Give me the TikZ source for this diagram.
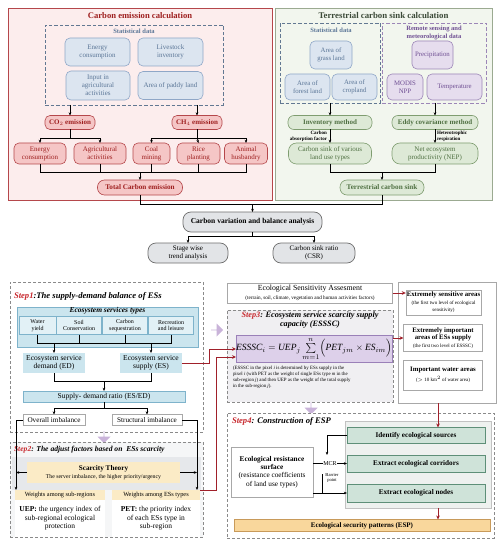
\documentclass[tikz,border=0pt]{standalone}
\usepackage{fontspec}
\setmainfont{Liberation Serif}
\usetikzlibrary{arrows.meta,shapes.arrows,calc}
\newcommand{\myfs}[2]{\fontsize{#1}{#2}\selectfont}
\definecolor{redT}{HTML}{9E1F1F}
\definecolor{redB}{HTML}{B5474B}
\definecolor{redF}{HTML}{F5C6C6}
\definecolor{redBg}{HTML}{FCEDED}
\definecolor{blueT}{HTML}{5B7697}
\definecolor{blueB}{HTML}{8FA7C7}
\definecolor{blueF}{HTML}{DCE5F0}
\definecolor{greenBg}{HTML}{F2F6EE}
\definecolor{greenBgB}{HTML}{9BAA91}
\definecolor{greenF}{HTML}{DDE9D6}
\definecolor{greenB}{HTML}{7F9D70}
\definecolor{greenT}{HTML}{4F7042}
\definecolor{greenTT}{HTML}{3C4A38}
\definecolor{purF}{HTML}{E6DDEE}
\definecolor{purB}{HTML}{9C86B7}
\definecolor{purT}{HTML}{6F4F93}
\definecolor{grayF}{HTML}{E2E4E7}
\definecolor{grayB}{HTML}{6E6E6E}
\definecolor{esBlue}{HTML}{CBE5EE}
\definecolor{esBlueB}{HTML}{7EB3CB}
\definecolor{esCell}{HTML}{E2F1F6}
\definecolor{orF}{HTML}{FBEBC6}
\definecolor{orESP}{HTML}{F9D79C}
\definecolor{orESPB}{HTML}{C89A5A}
\definecolor{tealF}{HTML}{CFE3D9}
\definecolor{tealB}{HTML}{5E8F78}
\definecolor{formF}{HTML}{DDD0EA}
\definecolor{formB}{HTML}{9A80B8}
\definecolor{arrowRed}{HTML}{A0202A}
\definecolor{stepred}{HTML}{C8282D}
\definecolor{blk}{HTML}{C9B3D9}
\definecolor{dashG}{HTML}{8A8A8A}
\definecolor{lightG}{HTML}{A8A8A8}
\definecolor{s2bg}{HTML}{F5F6F7}
\definecolor{s2band}{HTML}{E6E8EB}
\definecolor{s3bg}{HTML}{F0EFF2}
\definecolor{pnlF}{HTML}{EEF1EF}
\tikzset{
  bx/.style={align=center, inner sep=1pt, outer sep=0pt},
  pinkn/.style={bx, draw=redB, fill=redF, rounded corners=5pt, text=redT, line width=0.6pt},
  bluen/.style={bx, draw=blueB, fill=blueF, rounded corners=5pt, text=blueT, line width=0.6pt},
  greenn/.style={bx, draw=greenB, fill=greenF, rounded corners=6pt, text=greenT, line width=0.6pt},
  purn/.style={bx, draw=purB, fill=purF, rounded corners=5pt, text=purT, line width=0.6pt},
  grayn/.style={bx, draw=grayB, fill=grayF, rounded corners=8pt, text=black, line width=0.7pt},
  ln/.style={line width=0.6pt},
  arr/.style={line width=0.6pt, -{Stealth[length=3.2pt,width=2.6pt]}},
  rarr/.style={draw=arrowRed, line width=0.9pt, -{Stealth[length=4pt,width=3.6pt]}},
  dbox/.style={bx, dashed, dash pattern=on 3.5pt off 2pt, line width=0.8pt},
  dstep/.style={bx, draw=dashG, dash pattern=on 3pt off 2pt, line width=0.7pt},
  wbox/.style={bx, draw=lightG, fill=white, line width=0.6pt},
  blkarrow/.style={single arrow, fill=blk, draw=none, minimum height=12pt, minimum width=13pt, single arrow head extend=2.5pt, inner sep=0pt}
}
\begin{document}
\begin{tikzpicture}[x=1pt,y=-1pt]
\useasboundingbox (0,0) rectangle (500,540);
\fill[white] (0,0) rectangle (500,540);

% ================= Carbon emission =================
\node[bx, draw=redB, fill=redBg, line width=0.7pt, minimum width=264, minimum height=192] (ce) at (140,104) {};
\node[bx, font=\myfs{8.6}{10}\bfseries, text=redT] (cet) at (140,16) {Carbon emission calculation};
\node[dbox, draw=blueT!80!gray, minimum width=178, minimum height=80] (sd1) at (134,65) {};
\node[bx, font=\myfs{6.5}{7.5}\bfseries, text=blueT] (sd1t) at (134,31) {Statistical data};
\node[bluen, font=\myfs{7}{8}, minimum width=65, minimum height=28] (enc) at (97.5,52) {Energy\\consumption};
\node[bluen, font=\myfs{7}{8}, minimum width=65, minimum height=28] (liv) at (170.5,52) {Livestock\\inventory};
\node[bluen, font=\myfs{7}{8}, minimum width=64, minimum height=29] (inp) at (98,85.5) {Input in\\agricultural\\activities};
\node[bluen, font=\myfs{7}{8}, minimum width=65, minimum height=28] (pad) at (170.5,85.5) {Area of paddy land};

\node[pinkn, font=\myfs{7}{8}\bfseries, minimum width=50, minimum height=14] (co2) at (70,122.5) {CO$_2$ emission};
\node[pinkn, font=\myfs{7}{8}\bfseries, minimum width=50, minimum height=14] (ch4) at (197,122.5) {CH$_4$ emission};
\draw[arr] (sd1.south -| co2) -- (co2.north);
\draw[arr] (sd1.south -| ch4) -- (ch4.north);

\node[pinkn, font=\myfs{7}{8}, minimum width=52, minimum height=21] (en2) at (40,153.5) {Energy\\consumption};
\node[pinkn, font=\myfs{7}{8}, minimum width=52, minimum height=21] (agr) at (100,153.5) {Agricultural\\activities};
\node[pinkn, font=\myfs{7}{8}, minimum width=37, minimum height=21] (cm) at (151.5,153.5) {Coal\\mining};
\node[pinkn, font=\myfs{7}{8}, minimum width=43, minimum height=21] (rp) at (198.5,153.5) {Rice\\planting};
\node[pinkn, font=\myfs{7}{8}, minimum width=43, minimum height=21] (ah) at (246,153.5) {Animal\\husbandry};

\coordinate (j1) at (70,138);
\draw[ln] (co2.south) -- (j1);
\draw[arr] (j1) -| (en2.north);
\draw[arr] (j1) -| (agr.north);
\coordinate (j2) at (197,138);
\draw[ln] (ch4.south) -- (j2);
\draw[arr] (j2) -| (cm.north);
\draw[arr] (j2) -- (rp.north);
\draw[arr] (j2) -| (ah.north);

\node[pinkn, font=\myfs{7.2}{8}\bfseries, minimum width=85, minimum height=15, rounded corners=7pt] (tot) at (140,187.5) {Total Carbon emission};
\coordinate (j3) at (140,172);
\draw[ln] (en2.south) |- (j3);
\draw[ln] (ah.south) |- (j3);
\draw[ln] (agr.south) -- (agr.south |- j3);
\draw[ln] (cm.south) -- (cm.south |- j3);
\draw[ln] (rp.south) -- (rp.south |- j3);
\draw[arr] (j3) -- (tot.north);

% ================= Terrestrial carbon sink =================
\node[bx, draw=greenBgB, fill=greenBg, line width=0.7pt, minimum width=217, minimum height=192] (tcs) at (383.5,104) {};
\node[bx, font=\myfs{8.8}{10}\bfseries, text=greenTT] (tcst) at (383.5,16) {Terrestrial carbon sink calculation};
\node[dbox, draw=blueT!80!gray, minimum width=100, minimum height=80] (sd2) at (330,63) {};
\node[bx, font=\myfs{6.5}{7.5}\bfseries, text=blueT] (sd2t) at (331,30) {Statistical data};
\node[dbox, draw=purB, minimum width=104, minimum height=80] (rs) at (434,63) {};
\node[bx, font=\myfs{6.5}{7.5}\bfseries, text=purT] (rst) at (434,33) {Remote sensing and\\meteorological data};

\node[bluen, font=\myfs{6.8}{8}, minimum width=42, minimum height=28] (gl) at (331,55) {Area of\\grass land};
\node[bluen, font=\myfs{6.8}{8}, minimum width=45, minimum height=26] (fl) at (307.5,87) {Area of\\forest land};
\node[bluen, font=\myfs{6.8}{8}, minimum width=45, minimum height=26] (crl) at (354.5,87) {Area of\\cropland};
\node[purn, font=\myfs{6.8}{8}, minimum width=41, minimum height=28] (pr) at (432.5,55) {Precipitation};
\node[purn, font=\myfs{6.8}{8}, minimum width=36, minimum height=26] (mn) at (405,87) {MODIS\\NPP};
\node[purn, font=\myfs{6.8}{8}, minimum width=55, minimum height=26] (tp) at (454.5,87) {Temperature};

\node[greenn, font=\myfs{7}{8}\bfseries, minimum width=84, minimum height=14] (im) at (330,122.5) {Inventory method};
\node[greenn, font=\myfs{7}{8}\bfseries, minimum width=86, minimum height=14] (ecm) at (435,122.5) {Eddy covariance method};
\draw[arr] (sd2.south -| im) -- (im.north);
\draw[arr] (rs.south -| ecm) -- (ecm.north);

\node[greenn, font=\myfs{7}{8}, minimum width=83, minimum height=21, rounded corners=8pt] (csl) at (330,153.5) {Carbon sink of various\\land use types};
\node[greenn, font=\myfs{7}{8}, minimum width=86, minimum height=21, rounded corners=8pt] (nep) at (435,153.5) {Net ecosystem\\productivity (NEP)};
\draw[arr] (im.south) -- (csl.north);
\draw[arr] (ecm.south) -- (nep.north);
\node[bx, font=\myfs{5}{5.6}\bfseries, anchor=east, align=right] (caf) at (328,136) {Carbon\\absorption factor};
\node[bx, font=\myfs{5}{5.6}\bfseries, anchor=west, align=left] (htr) at (436,136) {Heterotrophic\\respiration};

\node[greenn, font=\myfs{7.2}{8}\bfseries, minimum width=84, minimum height=15, rounded corners=7pt] (ts) at (382,187.5) {Terrestrial carbon sink};
\coordinate (j4) at (382,172);
\draw[ln] (csl.south) |- (j4);
\draw[ln] (nep.south) |- (j4);
\draw[arr] (j4) -- (ts.north);

% ================= Carbon variation =================
\node[grayn, font=\myfs{7.5}{8.5}\bfseries, minimum width=139, minimum height=20] (cv) at (252.5,222) {Carbon variation and balance analysis};
\coordinate (j5) at (252.5,204);
\draw[ln] (tot.south) |- (j5);
\draw[ln] (ts.south) |- (j5);
\draw[arr] (j5) -- (cv.north);
\node[grayn, font=\myfs{7}{8}, minimum width=80, minimum height=20] (sw) at (188,253) {Stage wise\\trend analysis};
\node[grayn, font=\myfs{7}{8}, minimum width=82, minimum height=20] (csr) at (314,253) {Carbon sink ratio\\(CSR)};
\coordinate (j6) at (252.5,236);
\draw[ln] (cv.south) -- (j6);
\draw[arr] (j6) -| (sw.north);
\draw[arr] (j6) -| (csr.north);

% ================= Step 1 =================
\node[dstep, fill=white, minimum width=193, minimum height=150] (s1) at (106.5,357) {};
\node[bx, anchor=west, font=\myfs{8.6}{10}\bfseries\itshape] (s1t) at (13,296) {\textcolor{stepred}{Step1}:The supply-demand balance of ESs};
\node[bx, draw=esBlueB, fill=esBlue, line width=0.6pt, minimum width=181, minimum height=40] (est) at (107.5,327) {};
\node[bx, font=\myfs{7.5}{8.5}\bfseries\itshape] (estt) at (107.5,311) {Ecosystem services types};
\node[bx, draw=esBlueB, fill=esCell, font=\myfs{6}{6.6}, minimum width=37, minimum height=18] (wy) at (37.5,325.5) {Water\\yield};
\node[bx, draw=esBlueB, fill=esCell, font=\myfs{6}{6.6}, minimum width=45, minimum height=18] (sc) at (79,325.5) {Soil\\Conservation};
\node[bx, draw=esBlueB, fill=esCell, font=\myfs{6}{6.6}, minimum width=45, minimum height=18] (csq) at (125,325.5) {Carbon\\sequestration};
\node[bx, draw=esBlueB, fill=esCell, font=\myfs{6}{6.6}, minimum width=45, minimum height=18] (rl) at (171,325.5) {Recreation\\and leisure};
\coordinate (k1) at (54,343);
\coordinate (k2) at (151,343);
\draw[ln] (wy.south) |- (k1);
\draw[ln] (rl.south) |- (k2);
\draw[ln] (k1) -- (k2);
\draw[ln] (sc.south) -- (sc.south |- k1);
\draw[ln] (csq.south) -- (csq.south |- k1);
\node[bx, fill=esBlue, font=\myfs{7.5}{8.5}, minimum width=62, minimum height=20] (ed) at (54,363) {Ecosystem service\\demand (ED)};
\node[bx, fill=esBlue, font=\myfs{7.5}{8.5}, minimum width=62, minimum height=20] (es) at (151,363) {Ecosystem service\\supply (ES)};
\draw[arr] (k1) -- (ed.north);
\draw[arr] (k2) -- (es.north);
\node[bx, draw=esBlueB, fill=esBlue, font=\myfs{7.5}{8.5}, minimum width=162, minimum height=11] (sdr) at (104,396.5) {Supply- demand ratio (ES/ED)};
\coordinate (k3) at (104,381);
\draw[ln] (ed.south) |- (k3);
\draw[ln] (es.south) |- (k3);
\draw[arr] (k3) -- (sdr.north);
\node[wbox, font=\myfs{7.2}{8}, minimum width=62, minimum height=11] (oi) at (54,420) {Overall imbalance};
\node[wbox, font=\myfs{7.2}{8}, minimum width=70, minimum height=11] (si) at (147,420) {Structural imbalance};
\coordinate (k4) at (104,408);
\draw[ln] (sdr.south) -- (k4);
\draw[arr] (k4) -| (oi.north);
\draw[arr] (k4) -| (si.north);

\node[blkarrow, shape border rotate=270] (ba1) at (104,437) {};

% ================= Step 2 =================
\node[dstep, fill=s2bg, minimum width=193, minimum height=95] (s2) at (106.5,489.5) {};
\fill[s2band] (12,457) rectangle (201,490);
\node[bx, anchor=west, font=\myfs{7.6}{9}\bfseries\itshape] (s2t) at (13,450) {\textcolor{stepred}{Step2}: The adjust factors based on\ \ ESs scarcity};
\node[bx, fill=orF, font=\myfs{7.2}{8.2}, minimum width=153, minimum height=21] (st) at (103.5,472.5) {\textbf{Scarcity Theory}\\{\myfs{5.8}{7}The server imbalance, the higher priority/urgency}};
\node[bx, fill=orF, font=\myfs{6.3}{7}, minimum width=90, minimum height=10] (wsr) at (60,495) {Weights among sub-regions};
\node[bx, fill=orF, font=\myfs{6.3}{7}, minimum width=88, minimum height=10] (wet) at (156,495) {Weights among ESs types};
\node[bx, fill=white, font=\myfs{7.5}{8.6}, minimum width=90, minimum height=37] (uep) at (60,518.5) {\textbf{UEP:} the urgency index of\\sub-regional ecological\\protection};
\node[bx, fill=white, font=\myfs{7.5}{8.6}, minimum width=88, minimum height=37] (pet) at (156,518.5) {\textbf{PET:} the priority index\\of each ESs type in\\sub-region};
\coordinate (lv) at (16,490);
\coordinate (rv) at (197,490);
\draw[arr] (oi.west) -| (lv);
\draw[arr] (si.east) -| (rv);
\draw[arr] (st.west) -- (st.west -| lv);
\draw[arr] (st.east) -- (st.east -| rv);

% ================= Step 3 =================
\node[blkarrow] (ba2) at (217,330) {};
\node[wbox, font=\myfs{7.8}{9}, minimum width=165, minimum height=20] (esa) at (310,293) {Ecological Sensitivity Assesment\\{\myfs{5.2}{6}(terrain, soil, climate, vegetation and human activities factors)}};
\node[dstep, fill=s3bg, minimum width=166, minimum height=92] (s3) at (310,356) {};
\node[bx, font=\myfs{8.2}{9.2}\bfseries\itshape] (s3t) at (310,320) {\textcolor{stepred}{Step3}: Ecosystem service scarcity supply\\capacity (ESSSC)};
\node[bx, draw=formB, fill=formF, line width=0.6pt, minimum width=146, minimum height=27, inner sep=0pt, font=\myfs{9.5}{11}] (fm) at (314,349) {$\mathit{ESSSC}_i=\mathit{UEP}_j\sum\limits_{m=1}^{n}\Bigl(\mathit{PET}_{jm}\times\mathit{ES}_{im}\Bigr)$};
\node[bx, anchor=north west, align=left, font=\myfs{4.9}{6}] (cap) at (232,365) {(ESSSC in the pixel \textit{i} is determined by ESs supply in the\\pixel \textit{i} (with PET as the weight of single ESs type \textit{m} in the\\sub-region \textit{j}) and then UEP as the weight of the total supply\\in the sub-region \textit{j}).};
\coordinate (r1) at (209,349);
\coordinate (r2) at (216,357);
\draw[rarr] (es.east) -| (r1) -- (r1 -| fm.west);
\draw[rarr] (wet.north east) -| (r2) -- (r2 -| fm.west);

% ================= right column =================
\node[wbox, minimum width=98, minimum height=121] (orb) at (447,342.5) {};
\node[wbox, font=\myfs{6.8}{7.6}, minimum width=73, minimum height=25] (esa1) at (443.5,302.5) {\textbf{Extremely sensitive areas}\\{\myfs{5}{6}(the first two level of ecological}\\{\myfs{5}{6}sensitivity)}};
\node[wbox, font=\myfs{6.8}{7.6}, minimum width=79, minimum height=27] (ei) at (443,338) {\textbf{Extremely important}\\\textbf{areas of ESs supply}\\{\myfs{5}{6}(the first two level of ESSSC)}};
\node[wbox, font=\myfs{6.8}{7.6}, minimum width=79, minimum height=30] (iw) at (443,375) {\textbf{Important water areas}\\[2pt]{\myfs{5}{6}($>$ 10 km$^2$ of water area)}};
\draw[rarr] (esa.east) -- (esa.east -| esa1.west);
\draw[rarr] (s3.east |- ei.west) -- (ei.west);

\node[blkarrow, shape border rotate=270] (ba3) at (311,408) {};

% ================= Step 4 =================
\node[dstep, fill=white, minimum width=267, minimum height=125] (s4) at (360.5,475.5) {};
\node[bx, anchor=west, font=\myfs{8.6}{10}\bfseries\itshape] (s4t) at (231,421) {\textcolor{stepred}{Step4}: Construction of ESP};
\node[bx, draw=lightG!70, fill=pnlF, line width=0.6pt, minimum width=146, minimum height=87] (pnl) at (418,464.5) {};
\node[bx, draw=tealB, fill=tealF, line width=0.6pt, font=\myfs{7.2}{8}\bfseries, minimum width=138, minimum height=16] (ies) at (416,435.5) {Identify ecological sources};
\node[bx, draw=tealB, fill=tealF, line width=0.6pt, font=\myfs{7.2}{8}\bfseries, minimum width=138, minimum height=17] (ecc) at (416,463.5) {Extract ecological corridors};
\node[bx, draw=tealB, fill=tealF, line width=0.6pt, font=\myfs{7.2}{8}\bfseries, minimum width=138, minimum height=18] (enn) at (416,493) {Extract ecological nodes};
\node[wbox, font=\myfs{7.3}{8.4}, minimum width=82, minimum height=50] (ers) at (272,472) {\textbf{Ecological resistance}\\\textbf{surface}\\(resistance coefficients\\of land use types)};
\coordinate (rx) at (438,0);
\draw[rarr] (orb.south -| rx) -- (ies.north -| rx);
\draw[arr] (ers.east |- ecc) -- node[bx, fill=white, font=\myfs{6}{7}, inner sep=0.6pt] (mcr) {MCR} (ecc.west);
\coordinate (iv) at (327,455);
\draw[arr] (ies.west) -| (iv);
\node[bx, font=\myfs{4.6}{5.4}] (bp) at (332,478) {Barrier\\point};
\coordinate (bv) at (322,474);
\draw[ln] (bv) -- (bv |- enn);
\draw[arr] (ers.east |- enn) -- (enn.west);
\node[bx, draw=orESPB, fill=orESP, line width=0.6pt, font=\myfs{7}{8}\bfseries, minimum width=256, minimum height=12] (esp) at (362,525.5) {Ecological security patterns (ESP)};
\draw[rarr] (pnl.south -| rx) -- (esp.north -| rx);
\end{tikzpicture}
\end{document}
